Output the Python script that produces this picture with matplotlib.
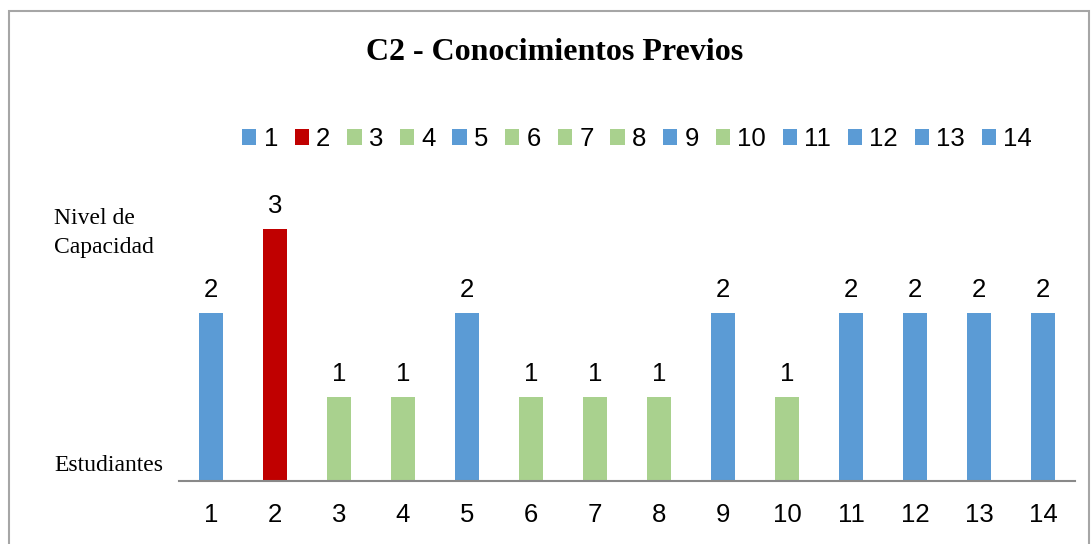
import matplotlib

matplotlib.use("Agg")
import matplotlib.pyplot as plt
from matplotlib.patches import Rectangle

# data
students = [str(i) for i in range(1, 15)]
levels = [2, 3, 1, 1, 2, 1, 1, 1, 2, 1, 2, 2, 2, 2]
BLUE, RED, GREEN = "#5B9BD5", "#C00000", "#A9D18E"
colors = [BLUE, RED, GREEN, GREEN, BLUE, GREEN, GREEN, GREEN,
          BLUE, GREEN, BLUE, BLUE, BLUE, BLUE]

SANS = "Liberation Sans"
SERIF = "Liberation Serif"
NUM_SIZE = 18.5

W, H = 1091, 544
fig = plt.figure(figsize=(W / 100, H / 100), dpi=100)
ax = fig.add_axes([179 / W, 1 - 481 / H, 896 / W, 294 / H])

x = list(range(1, len(students) + 1))
bars = ax.bar(x, levels, width=0.39, color=colors)

for xi, v in zip(x, levels):
    ax.text(xi, v + 0.13, str(v), ha="center", va="bottom",
            fontsize=NUM_SIZE, family=SANS, color="black")

ax.set_xlim(0.5, len(students) + 0.5)
ax.set_ylim(0, 3.5)
ax.set_xticks(x)
ax.set_xticklabels(students, fontsize=NUM_SIZE, family=SANS)
ax.tick_params(axis="x", length=0, pad=16)
ax.set_yticks([])
for side in ["left", "right", "top"]:
    ax.spines[side].set_visible(False)
ax.spines["bottom"].set_color("#898989")
ax.spines["bottom"].set_linewidth(1.5)

fig.text(555 / W, 1 - 52 / H, "C2 - Conocimientos Previos", ha="center",
         va="center", fontsize=23, fontweight="bold", family=SERIF)
fig.text(54 / W, 1 - 224 / H, "Nivel de", ha="left", va="baseline",
         fontsize=17, family=SERIF)
fig.text(54 / W, 1 - 253 / H, "Capacidad", ha="left", va="baseline",
         fontsize=17, family=SERIF)
fig.text(54 / W, 1 - 471 / H, "Estudiantes", ha="left", va="baseline",
         fontsize=17, family=SERIF)

fig.legend(bars, students, loc="center", bbox_to_anchor=(637 / W, 1 - 139 / H),
           ncol=len(students), frameon=False,
           prop={"family": SANS, "size": NUM_SIZE},
           handlelength=0.56, handleheight=0.56, handletextpad=0.28,
           columnspacing=0.65, borderaxespad=0)

fig.add_artist(Rectangle((9 / W, -0.01), 1080 / W, 1 - 11 / H + 0.01,
                         transform=fig.transFigure, fill=False,
                         edgecolor="#A6A6A6", linewidth=1.5))

fig.savefig("out.png", dpi=100)
